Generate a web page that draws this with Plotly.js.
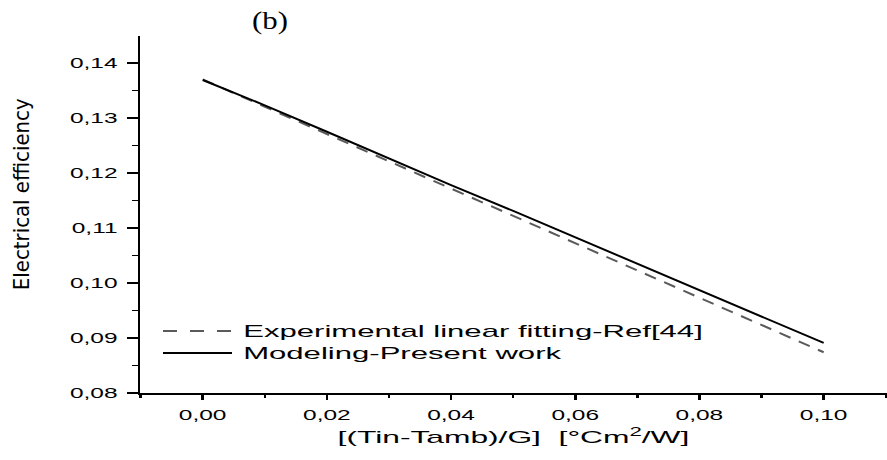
<!DOCTYPE html>
<html>
<head>
<meta charset="utf-8">
<script src="https://cdn.plot.ly/plotly-3.0.1.min.js"></script>
<style>
html,body{margin:0;padding:0;background:#fff;}
#chart{width:887px;height:460px;}
</style>
</head>
<body>
<div id="chart"></div>
<script>
// ---- data ----
const chartTitle = '(b)';
const xTitle = '[(Tin-Tamb)/G]  [°Cm<sup>2</sup>/W]';
const yTitle = 'Electrical efficiency';
const seriesNames = ['Experimental linear fitting-Ref[44]', 'Modeling-Present work'];

const xExperimental = [0.00, 0.10];
const yExperimental = [0.1370, 0.0874];

const xModeling = [0.00, 0.01, 0.02, 0.03, 0.04, 0.05, 0.06, 0.07, 0.08, 0.09, 0.10];
const yModeling = [0.1369, 0.1323, 0.1275, 0.1226, 0.1178, 0.1131, 0.1083, 0.1035, 0.0988, 0.0940, 0.0891];

const xTickVals = [0.00, 0.02, 0.04, 0.06, 0.08, 0.10];
const yTickVals = [0.08, 0.09, 0.10, 0.11, 0.12, 0.13, 0.14];

// ---- chart ----
const traces = [
  {x: xExperimental, y: yExperimental, name: seriesNames[0], mode: 'lines',
   line: {color: '#5a5a5a', width: 2, dash: '12px,9px'}, showlegend: false},
  {x: xModeling, y: yModeling, name: seriesNames[1], mode: 'lines',
   line: {color: '#000000', width: 2}, showlegend: false}
];

const L = 140, R = 0, T = 36, B = 67;
const PW = 887 - L - R, PH = 460 - T - B;
const px = v => (v - L) / PW;           // pixel -> paper x
const py = v => (460 - B - v) / PH;     // pixel -> paper y

const baseFont = 'Liberation Sans, Arial, sans-serif';

const layout = {
  width: 887, height: 460,
  margin: {l: L, r: R, t: T, b: B, pad: 0},
  paper_bgcolor: '#ffffff', plot_bgcolor: '#ffffff',
  separators: ',.',
  showlegend: false,
  font: {family: baseFont, color: '#000'},
  title: {text: chartTitle, x: 270/887, xanchor: 'center', xref: 'container',
          y: 1 - 20/460, yanchor: 'middle', yref: 'container',
          font: {family: 'Liberation Serif, Times New Roman, serif', size: 25, color: '#000'}},
  xaxis: {
    range: [-0.0101, 0.1102], tickvals: xTickVals, tickformat: '.2f',
    showgrid: false, zeroline: false, showline: true, linecolor: '#000', linewidth: 1.5,
    ticks: 'outside', ticklen: 5, tickwidth: 2.5, tickcolor: '#000',
    ticklabelstandoff: 4,
    minor: {dtick: 0.01, tick0: 0, ticks: 'outside', ticklen: 3, tickwidth: 2.5, tickcolor: '#000', showgrid: false},
    tickfont: {family: baseFont, size: 14, color: '#000'},
    title: {text: xTitle, standoff: 9, font: {family: baseFont, size: 17, color: '#000'}}
  },
  yaxis: {
    range: [0.08, 0.1449], tickvals: yTickVals, tickformat: '.2f',
    showgrid: false, zeroline: false, showline: true, linecolor: '#000', linewidth: 2.5,
    ticks: 'outside', ticklen: 11, tickwidth: 1.5, tickcolor: '#000',
    ticklabelstandoff: 6,
    minor: {dtick: 0.005, tick0: 0.08, ticks: 'outside', ticklen: 6, tickwidth: 1.5, tickcolor: '#000', showgrid: false},
    tickfont: {family: baseFont, size: 14, color: '#000'}
  },
  shapes: [
    {type: 'line', xref: 'paper', yref: 'paper', x0: px(163), x1: px(232), y0: py(331), y1: py(331),
     line: {color: '#5a5a5a', width: 2, dash: '14px,13px'}},
    {type: 'line', xref: 'paper', yref: 'paper', x0: px(163), x1: px(232), y0: py(353), y1: py(353),
     line: {color: '#000', width: 2}}
  ],
  annotations: [
    {text: seriesNames[0], xref: 'paper', yref: 'paper', x: px(241), y: py(331), xanchor: 'left', yanchor: 'middle',
     showarrow: false, font: {family: baseFont, size: 17, color: '#000'}},
    {text: seriesNames[1], xref: 'paper', yref: 'paper', x: px(241), y: py(353), xanchor: 'left', yanchor: 'middle',
     showarrow: false, font: {family: baseFont, size: 17, color: '#000'}},
    {text: yTitle, xref: 'paper', yref: 'paper', x: px(22), y: py(194), xanchor: 'center', yanchor: 'middle',
     textangle: -90, showarrow: false,
     font: {family: 'Liberation Sans Narrow, DejaVu Sans Condensed, Arial Narrow, sans-serif', size: 21, color: '#000'}}
  ]
};

// horizontal stretching of text, to reproduce the reference's wide lettering
function stretchEl(el, sx, mode) {
  if (!el) return;
  if (el.__setT !== undefined && el.getAttribute('transform') === el.__setT) return;
  const prev = el.getAttribute('transform') || '';
  const bb = el.getBBox();
  const ox = mode === 'start' ? bb.x : (mode === 'end' ? bb.x + bb.width : bb.x + bb.width / 2);
  const t = (prev + ` translate(${ox},0) scale(${sx},1) translate(${-ox},0)`).trim();
  el.setAttribute('transform', t);
  el.__setT = t;
}
function widthOf(el) { return el ? el.getBBox().width : 1; }

function applyStretch(gd) {
  const yt = gd.querySelectorAll('.yaxislayer-above .ytick text, g.ytick text');
  const xt = gd.querySelectorAll('.xaxislayer-above .xtick text, g.xtick text');
  let sxTick = 1.8;
  if (yt.length) {
    const last = yt[yt.length - 1];
    if (last.__setT === undefined) sxTick = 48 / widthOf(last);
  }
  yt.forEach(el => stretchEl(el, sxTick, 'end'));
  xt.forEach(el => stretchEl(el, sxTick, 'middle'));

  const xtitle = gd.querySelector('text.xtitle');
  if (xtitle && xtitle.__setT === undefined) stretchEl(xtitle, 352 / widthOf(xtitle), 'middle');

  const gtitle = gd.querySelector('text.gtitle');
  if (gtitle && gtitle.__setT === undefined) stretchEl(gtitle, 36 / widthOf(gtitle), 'middle');

  const a0 = gd.querySelector('.annotation[data-index="0"] text.annotation-text');
  const a1 = gd.querySelector('.annotation[data-index="1"] text.annotation-text');
  const a2 = gd.querySelector('.annotation[data-index="2"] text.annotation-text');
  if (a0 && a0.__setT === undefined) {
    const s = 460 / widthOf(a0);
    stretchEl(a0, s, 'start');
    if (a1) stretchEl(a1, s, 'start');
  }
  if (a2 && a2.__setT === undefined) stretchEl(a2, 192 / widthOf(a2), 'middle');
}

const gd = document.getElementById('chart');
Plotly.newPlot(gd, traces, layout, {staticPlot: true, displayModeBar: false}).then(() => {
  applyStretch(gd);
  gd.on && gd.on('plotly_afterplot', () => applyStretch(gd));
});
</script>
</body>
</html>
